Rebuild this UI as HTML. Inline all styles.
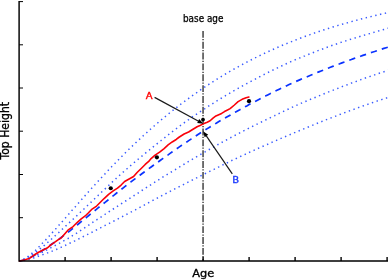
<!DOCTYPE html>
<html><head><meta charset="utf-8"><title>Top Height vs Age</title>
<style>
html,body{margin:0;padding:0;background:#fff;}
body{width:388px;height:280px;overflow:hidden;}
svg{display:block;}
text{font-family:"DejaVu Sans Condensed","DejaVu Sans","Liberation Sans",sans-serif;}
</style></head><body>
<svg width="388" height="280" viewBox="0 0 388 280">
<rect width="388" height="280" fill="#fff"/>
<g transform="translate(0,0.25)" fill="none" stroke="#3a5cff" stroke-width="1.5" stroke-dasharray="1.4 3.51" stroke-dashoffset="0.4">
<path d="M19.1,260.8 L21.4,260.0 L23.7,258.9 L26.1,257.5 L28.4,255.9 L30.7,254.1 L33.0,252.2 L35.4,250.1 L37.7,247.8 L40.0,245.5 L42.3,243.1 L44.7,240.7 L47.0,238.2 L49.3,235.7 L51.6,233.2 L53.9,230.6 L56.3,228.1 L58.6,225.4 L60.9,222.8 L63.2,220.2 L65.6,217.5 L67.9,214.9 L70.2,212.3 L72.5,209.6 L74.9,207.0 L77.2,204.3 L79.5,201.7 L81.8,199.1 L84.2,196.4 L86.5,193.8 L88.8,191.2 L91.1,188.7 L93.4,186.1 L95.8,183.5 L98.1,181.0 L100.4,178.5 L102.7,176.0 L105.1,173.5 L107.4,171.0 L109.7,168.5 L112.0,166.1 L114.4,163.7 L116.7,161.3 L119.0,158.9 L121.3,156.6 L123.6,154.3 L126.0,151.9 L128.3,149.7 L130.6,147.4 L132.9,145.2 L135.3,142.9 L137.6,140.7 L139.9,138.6 L142.2,136.4 L144.6,134.3 L146.9,132.2 L149.2,130.1 L151.5,128.0 L153.8,126.0 L156.2,124.0 L158.5,122.0 L160.8,120.0 L163.1,118.1 L165.5,116.1 L167.8,114.2 L170.1,112.3 L172.4,110.5 L174.8,108.6 L177.1,106.8 L179.4,105.0 L181.7,103.2 L184.1,101.5 L186.4,99.8 L188.7,98.1 L191.0,96.4 L193.3,94.7 L195.7,93.1 L198.0,91.4 L200.3,89.8 L202.6,88.3 L205.0,86.7 L207.3,85.2 L209.6,83.6 L211.9,82.1 L214.3,80.7 L216.6,79.2 L218.9,77.8 L221.2,76.3 L223.5,74.9 L225.9,73.5 L228.2,72.2 L230.5,70.8 L232.8,69.5 L235.2,68.2 L237.5,66.9 L239.8,65.6 L242.1,64.4 L244.5,63.1 L246.8,61.9 L249.1,60.7 L251.4,59.5 L253.8,58.3 L256.1,57.2 L258.4,56.0 L260.7,54.9 L263.0,53.8 L265.4,52.7 L267.7,51.6 L270.0,50.6 L272.3,49.5 L274.7,48.5 L277.0,47.4 L279.3,46.4 L281.6,45.4 L284.0,44.5 L286.3,43.5 L288.6,42.5 L290.9,41.6 L293.2,40.7 L295.6,39.8 L297.9,38.9 L300.2,38.0 L302.5,37.1 L304.9,36.2 L307.2,35.4 L309.5,34.6 L311.8,33.7 L314.2,32.9 L316.5,32.1 L318.8,31.3 L321.1,30.6 L323.4,29.8 L325.8,29.0 L328.1,28.3 L330.4,27.6 L332.7,26.8 L335.1,26.1 L337.4,25.4 L339.7,24.7 L342.0,24.0 L344.4,23.4 L346.7,22.7 L349.0,22.1 L351.3,21.4 L353.7,20.8 L356.0,20.2 L358.3,19.5 L360.6,18.9 L362.9,18.3 L365.3,17.7 L367.6,17.2 L369.9,16.6 L372.2,16.0 L374.6,15.5 L376.9,14.9 L379.2,14.4 L381.5,13.8 L383.9,13.3 L386.2,12.8 L388.5,12.3"/>
<path d="M19.1,260.8 L21.4,260.1 L23.7,259.2 L26.1,258.1 L28.4,256.8 L30.7,255.4 L33.0,253.9 L35.4,252.2 L37.7,250.5 L40.0,248.6 L42.3,246.8 L44.7,244.8 L47.0,242.8 L49.3,240.8 L51.6,238.7 L53.9,236.6 L56.3,234.5 L58.6,232.4 L60.9,230.3 L63.2,228.1 L65.6,225.9 L67.9,223.8 L70.2,221.6 L72.5,219.5 L74.9,217.3 L77.2,215.1 L79.5,212.9 L81.8,210.7 L84.2,208.5 L86.5,206.3 L88.8,204.1 L91.1,201.9 L93.4,199.7 L95.8,197.4 L98.1,195.2 L100.4,193.0 L102.7,190.8 L105.1,188.6 L107.4,186.4 L109.7,184.2 L112.0,182.0 L114.4,179.9 L116.7,177.7 L119.0,175.6 L121.3,173.5 L123.6,171.5 L126.0,169.4 L128.3,167.4 L130.6,165.4 L132.9,163.4 L135.3,161.4 L137.6,159.4 L139.9,157.5 L142.2,155.6 L144.6,153.6 L146.9,151.7 L149.2,149.9 L151.5,148.0 L153.8,146.1 L156.2,144.2 L158.5,142.3 L160.8,140.5 L163.1,138.6 L165.5,136.8 L167.8,134.9 L170.1,133.1 L172.4,131.3 L174.8,129.5 L177.1,127.8 L179.4,126.0 L181.7,124.3 L184.1,122.6 L186.4,120.9 L188.7,119.3 L191.0,117.6 L193.3,116.0 L195.7,114.4 L198.0,112.9 L200.3,111.3 L202.6,109.8 L205.0,108.3 L207.3,106.7 L209.6,105.2 L211.9,103.8 L214.3,102.3 L216.6,100.8 L218.9,99.4 L221.2,98.0 L223.5,96.6 L225.9,95.2 L228.2,93.8 L230.5,92.5 L232.8,91.1 L235.2,89.8 L237.5,88.5 L239.8,87.2 L242.1,85.9 L244.5,84.6 L246.8,83.3 L249.1,82.1 L251.4,80.8 L253.8,79.6 L256.1,78.4 L258.4,77.2 L260.7,75.9 L263.0,74.8 L265.4,73.6 L267.7,72.4 L270.0,71.3 L272.3,70.1 L274.7,69.0 L277.0,67.9 L279.3,66.7 L281.6,65.7 L284.0,64.6 L286.3,63.5 L288.6,62.5 L290.9,61.4 L293.2,60.4 L295.6,59.4 L297.9,58.4 L300.2,57.5 L302.5,56.5 L304.9,55.6 L307.2,54.6 L309.5,53.7 L311.8,52.8 L314.2,51.9 L316.5,51.0 L318.8,50.1 L321.1,49.3 L323.4,48.4 L325.8,47.5 L328.1,46.7 L330.4,45.8 L332.7,45.0 L335.1,44.2 L337.4,43.4 L339.7,42.6 L342.0,41.8 L344.4,41.1 L346.7,40.3 L349.0,39.6 L351.3,38.8 L353.7,38.1 L356.0,37.4 L358.3,36.7 L360.6,36.0 L362.9,35.3 L365.3,34.6 L367.6,33.9 L369.9,33.3 L372.2,32.6 L374.6,31.9 L376.9,31.2 L379.2,30.5 L381.5,29.9 L383.9,29.2 L386.2,28.5 L388.5,27.8"/>
<path d="M19.1,260.8 L21.4,260.4 L23.7,259.8 L26.1,259.2 L28.4,258.4 L30.7,257.5 L33.0,256.5 L35.4,255.5 L37.7,254.3 L40.0,253.2 L42.3,252.0 L44.7,250.8 L47.0,249.6 L49.3,248.4 L51.6,247.1 L53.9,245.9 L56.3,244.7 L58.6,243.4 L60.9,242.2 L63.2,240.9 L65.6,239.6 L67.9,238.3 L70.2,236.9 L72.5,235.4 L74.9,234.0 L77.2,232.5 L79.5,231.0 L81.8,229.5 L84.2,227.9 L86.5,226.4 L88.8,224.8 L91.1,223.3 L93.4,221.7 L95.8,220.2 L98.1,218.6 L100.4,217.1 L102.7,215.6 L105.1,214.0 L107.4,212.5 L109.7,211.0 L112.0,209.5 L114.4,208.0 L116.7,206.5 L119.0,205.0 L121.3,203.5 L123.6,202.0 L126.0,200.5 L128.3,199.0 L130.6,197.6 L132.9,196.1 L135.3,194.6 L137.6,193.1 L139.9,191.5 L142.2,190.0 L144.6,188.5 L146.9,187.0 L149.2,185.5 L151.5,184.0 L153.8,182.5 L156.2,181.1 L158.5,179.6 L160.8,178.1 L163.1,176.7 L165.5,175.3 L167.8,173.8 L170.1,172.4 L172.4,171.0 L174.8,169.6 L177.1,168.2 L179.4,166.8 L181.7,165.4 L184.1,164.0 L186.4,162.6 L188.7,161.2 L191.0,159.8 L193.3,158.5 L195.7,157.1 L198.0,155.7 L200.3,154.4 L202.6,153.0 L205.0,151.7 L207.3,150.3 L209.6,149.0 L211.9,147.7 L214.3,146.4 L216.6,145.1 L218.9,143.8 L221.2,142.5 L223.5,141.2 L225.9,140.0 L228.2,138.7 L230.5,137.5 L232.8,136.2 L235.2,135.0 L237.5,133.8 L239.8,132.6 L242.1,131.4 L244.5,130.2 L246.8,129.0 L249.1,127.8 L251.4,126.6 L253.8,125.5 L256.1,124.4 L258.4,123.2 L260.7,122.1 L263.0,121.0 L265.4,119.8 L267.7,118.7 L270.0,117.6 L272.3,116.5 L274.7,115.4 L277.0,114.2 L279.3,113.1 L281.6,112.0 L284.0,110.9 L286.3,109.8 L288.6,108.7 L290.9,107.6 L293.2,106.6 L295.6,105.5 L297.9,104.5 L300.2,103.5 L302.5,102.4 L304.9,101.4 L307.2,100.5 L309.5,99.5 L311.8,98.5 L314.2,97.6 L316.5,96.6 L318.8,95.7 L321.1,94.7 L323.4,93.8 L325.8,92.8 L328.1,91.9 L330.4,91.0 L332.7,90.1 L335.1,89.2 L337.4,88.3 L339.7,87.3 L342.0,86.4 L344.4,85.6 L346.7,84.7 L349.0,83.8 L351.3,82.9 L353.7,82.0 L356.0,81.2 L358.3,80.3 L360.6,79.5 L362.9,78.6 L365.3,77.8 L367.6,77.0 L369.9,76.2 L372.2,75.3 L374.6,74.6 L376.9,73.8 L379.2,73.0 L381.5,72.2 L383.9,71.5 L386.2,70.8 L388.5,70.0"/>
<path d="M19.1,260.8 L21.4,260.6 L23.7,260.2 L26.1,259.8 L28.4,259.2 L30.7,258.6 L33.0,257.9 L35.4,257.1 L37.7,256.3 L40.0,255.5 L42.3,254.6 L44.7,253.8 L47.0,252.9 L49.3,252.0 L51.6,251.1 L53.9,250.1 L56.3,249.2 L58.6,248.2 L60.9,247.1 L63.2,246.1 L65.6,245.0 L67.9,243.9 L70.2,242.8 L72.5,241.7 L74.9,240.6 L77.2,239.4 L79.5,238.3 L81.8,237.1 L84.2,235.9 L86.5,234.7 L88.8,233.6 L91.1,232.4 L93.4,231.2 L95.8,230.0 L98.1,228.8 L100.4,227.6 L102.7,226.4 L105.1,225.2 L107.4,224.0 L109.7,222.9 L112.0,221.7 L114.4,220.5 L116.7,219.3 L119.0,218.1 L121.3,216.9 L123.6,215.7 L126.0,214.4 L128.3,213.2 L130.6,212.0 L132.9,210.8 L135.3,209.6 L137.6,208.3 L139.9,207.1 L142.2,205.9 L144.6,204.6 L146.9,203.4 L149.2,202.1 L151.5,200.9 L153.8,199.7 L156.2,198.4 L158.5,197.2 L160.8,196.0 L163.1,194.7 L165.5,193.5 L167.8,192.3 L170.1,191.1 L172.4,189.9 L174.8,188.7 L177.1,187.5 L179.4,186.3 L181.7,185.1 L184.1,184.0 L186.4,182.8 L188.7,181.6 L191.0,180.5 L193.3,179.3 L195.7,178.1 L198.0,177.0 L200.3,175.8 L202.6,174.7 L205.0,173.5 L207.3,172.3 L209.6,171.2 L211.9,170.0 L214.3,168.9 L216.6,167.7 L218.9,166.6 L221.2,165.4 L223.5,164.3 L225.9,163.2 L228.2,162.0 L230.5,160.9 L232.8,159.8 L235.2,158.7 L237.5,157.6 L239.8,156.5 L242.1,155.4 L244.5,154.4 L246.8,153.3 L249.1,152.2 L251.4,151.2 L253.8,150.1 L256.1,149.1 L258.4,148.0 L260.7,147.0 L263.0,146.0 L265.4,145.0 L267.7,144.0 L270.0,142.9 L272.3,141.9 L274.7,140.9 L277.0,139.9 L279.3,138.9 L281.6,137.9 L284.0,136.9 L286.3,135.9 L288.6,135.0 L290.9,134.0 L293.2,133.0 L295.6,132.0 L297.9,131.0 L300.2,130.1 L302.5,129.1 L304.9,128.2 L307.2,127.2 L309.5,126.2 L311.8,125.3 L314.2,124.4 L316.5,123.4 L318.8,122.5 L321.1,121.5 L323.4,120.6 L325.8,119.7 L328.1,118.8 L330.4,117.9 L332.7,117.0 L335.1,116.1 L337.4,115.2 L339.7,114.3 L342.0,113.4 L344.4,112.5 L346.7,111.6 L349.0,110.8 L351.3,109.9 L353.7,109.1 L356.0,108.2 L358.3,107.4 L360.6,106.5 L362.9,105.7 L365.3,104.9 L367.6,104.1 L369.9,103.3 L372.2,102.5 L374.6,101.7 L376.9,100.9 L379.2,100.1 L381.5,99.4 L383.9,98.6 L386.2,97.9 L388.5,97.2"/>
</g>
<path d="M19.1,260.8 L21.4,260.3 L23.7,259.6 L26.1,258.8 L28.4,257.8 L30.7,256.8 L33.0,255.6 L35.4,254.3 L37.7,253.0 L40.0,251.6 L42.3,250.1 L44.7,248.7 L47.0,247.1 L49.3,245.5 L51.6,243.9 L53.9,242.3 L56.3,240.7 L58.6,239.0 L60.9,237.3 L63.2,235.5 L65.6,233.8 L67.9,232.0 L70.2,230.2 L72.5,228.3 L74.9,226.5 L77.2,224.6 L79.5,222.7 L81.8,220.8 L84.2,218.9 L86.5,217.0 L88.8,215.1 L91.1,213.2 L93.4,211.3 L95.8,209.4 L98.1,207.5 L100.4,205.7 L102.7,203.8 L105.1,201.9 L107.4,200.1 L109.7,198.2 L112.0,196.3 L114.4,194.5 L116.7,192.6 L119.0,190.8 L121.3,189.0 L123.6,187.2 L126.0,185.3 L128.3,183.6 L130.6,181.8 L132.9,180.0 L135.3,178.2 L137.6,176.5 L139.9,174.8 L142.2,173.1 L144.6,171.4 L146.9,169.7 L149.2,168.0 L151.5,166.3 L153.8,164.6 L156.2,163.0 L158.5,161.3 L160.8,159.6 L163.1,158.0 L165.5,156.3 L167.8,154.7 L170.1,153.0 L172.4,151.4 L174.8,149.8 L177.1,148.1 L179.4,146.5 L181.7,144.9 L184.1,143.4 L186.4,141.8 L188.7,140.2 L191.0,138.7 L193.3,137.1 L195.7,135.6 L198.0,134.1 L200.3,132.6 L202.6,131.2 L205.0,129.7 L207.3,128.2 L209.6,126.8 L211.9,125.4 L214.3,124.0 L216.6,122.6 L218.9,121.2 L221.2,119.8 L223.5,118.5 L225.9,117.1 L228.2,115.8 L230.5,114.5 L232.8,113.1 L235.2,111.8 L237.5,110.5 L239.8,109.3 L242.1,108.0 L244.5,106.7 L246.8,105.5 L249.1,104.2 L251.4,103.0 L253.8,101.7 L256.1,100.5 L258.4,99.3 L260.7,98.1 L263.0,96.9 L265.4,95.7 L267.7,94.5 L270.0,93.4 L272.3,92.2 L274.7,91.0 L277.0,89.9 L279.3,88.8 L281.6,87.7 L284.0,86.5 L286.3,85.5 L288.6,84.4 L290.9,83.3 L293.2,82.3 L295.6,81.2 L297.9,80.2 L300.2,79.2 L302.5,78.2 L304.9,77.2 L307.2,76.3 L309.5,75.3 L311.8,74.4 L314.2,73.4 L316.5,72.5 L318.8,71.5 L321.1,70.6 L323.4,69.7 L325.8,68.8 L328.1,67.8 L330.4,66.9 L332.7,66.0 L335.1,65.1 L337.4,64.2 L339.7,63.4 L342.0,62.5 L344.4,61.6 L346.7,60.8 L349.0,59.9 L351.3,59.1 L353.7,58.2 L356.0,57.4 L358.3,56.6 L360.6,55.8 L362.9,55.0 L365.3,54.2 L367.6,53.4 L369.9,52.6 L372.2,51.8 L374.6,51.1 L376.9,50.3 L379.2,49.5 L381.5,48.8 L383.9,48.0 L386.2,47.3 L388.5,46.6" transform="translate(0,0.4)" fill="none" stroke="#0a32ff" stroke-width="1.7" stroke-dasharray="6.3 5.14" stroke-dashoffset="0"/>
<path d="M203.05,30.9V260.8" fill="none" stroke="#2e2e2e" stroke-width="1.35" stroke-dasharray="6.9 1.3 1.25 1.4"/>
<path d="M19.6,260.6 L25.0,259.3 L29.1,258.1 L34.1,254.6 L39.1,251.6 L44.1,249.1 L47.1,247.6 L51.2,244.1 L55.2,241.5 L58.0,239.5 L61.6,237.1 L65.1,233.1 L68.6,229.1 L73.1,226.1 L77.1,222.1 L81.2,218.5 L85.2,215.5 L88.5,212.3 L92.1,208.6 L96.6,205.6 L100.1,202.1 L104.1,198.1 L108.6,194.0 L113.2,190.5 L117.5,187.6 L121.1,184.6 L124.6,181.1 L129.1,178.6 L133.6,176.1 L137.1,172.1 L141.2,168.0 L145.2,164.0 L148.7,161.0 L151.1,158.1 L155.1,154.6 L159.6,151.6 L164.1,148.1 L168.1,144.5 L172.2,141.5 L176.2,139.0 L179.0,136.8 L184.1,133.6 L188.6,131.6 L192.6,129.1 L197.1,126.3 L200.0,125.1 L203.4,123.4 L207.2,121.8 L210.1,120.3 L213.0,117.7 L215.9,115.5 L218.8,114.2 L221.6,113.0 L224.5,111.1 L227.5,109.6 L230.1,108.2 L234.1,104.8 L238.1,101.2 L242.1,98.9 L246.1,97.3 L248.9,96.6" transform="translate(0,0.45)" fill="none" stroke="#fa0008" stroke-width="1.6" stroke-linejoin="round" stroke-linecap="round"/>
<g stroke="#000" stroke-width="1.45" fill="none">
<path d="M19.1,1.1V260.9H388" stroke-linejoin="miter"/>
<path d="M65.1,260.9V256.9" stroke-width="1.4"/><path d="M111.1,260.9V256.9" stroke-width="1.4"/><path d="M157.1,260.9V256.9" stroke-width="1.4"/><path d="M203.1,260.9V256.9" stroke-width="1.4"/><path d="M249.1,260.9V256.9" stroke-width="1.4"/><path d="M295.1,260.9V256.9" stroke-width="1.4"/><path d="M341.1,260.9V256.9" stroke-width="1.4"/><path d="M387.1,260.9V256.9" stroke-width="1.4"/><path d="M19.1,217.7H23" stroke-width="1"/><path d="M19.1,174.5H23" stroke-width="1"/><path d="M19.1,131.2H23" stroke-width="1"/><path d="M19.1,88.0H23" stroke-width="1"/><path d="M19.1,44.8H23" stroke-width="1"/><path d="M19.1,1.6H23" stroke-width="1"/>
</g>
<g fill="#000">
<circle cx="110.75" cy="188.25" r="2.1"/>
<circle cx="156.9" cy="157.3" r="2.1"/>
<circle cx="203" cy="119.6" r="1.9"/>
<circle cx="249" cy="101.2" r="2.1"/>
</g>
<g stroke="#1a1a1a" stroke-width="1.2" fill="#000">
<path d="M154.6,97.4L198.6,121.3" fill="none"/>
<path d="M203.3,123.8L197.2,123.0L199.2,119.1Z" stroke="none"/>
<path d="M232.3,173.9L206.1,135.6" fill="none"/>
<path d="M203.1,131.2L208.2,134.7L204.6,137.2Z" stroke="none"/>
</g>
<text x="183.0" y="21.5" font-size="9.9" fill="#000" stroke="#000" stroke-width="0.25" textLength="40.4" lengthAdjust="spacingAndGlyphs">base age</text>
<text x="145.7" y="98.5" font-size="9" textLength="6.84" lengthAdjust="spacingAndGlyphs" fill="#ff0000" stroke="#ff0000" stroke-width="0.35" style="font-family:'DejaVu Sans','Liberation Sans',sans-serif">A</text>
<text x="232.2" y="182.8" font-size="9.1" textLength="6.86" lengthAdjust="spacingAndGlyphs" fill="#1e3cff" stroke="#1e3cff" stroke-width="0.35" style="font-family:'DejaVu Sans','Liberation Sans',sans-serif">B</text>
<text x="192.2" y="276.6" font-size="11.1" fill="#000" stroke="#000" stroke-width="0.3" textLength="22" lengthAdjust="spacingAndGlyphs">Age</text>
<text transform="translate(9.2,159.4) rotate(-90)" font-size="11.9" fill="#000" stroke="#000" stroke-width="0.3" textLength="57.5" lengthAdjust="spacingAndGlyphs">Top Height</text>
</svg>
</body></html>
